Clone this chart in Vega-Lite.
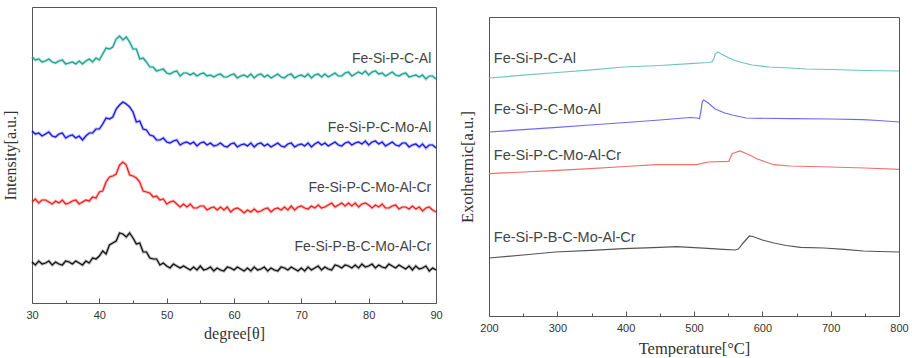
{
  "$schema": "https://vega.github.io/schema/vega-lite/v6.json",
  "background": "white",
  "padding": {"left": 1, "top": 6, "right": 0, "bottom": 0},
  "spacing": 15,
  "resolve": {"scale": {"color": "independent"}},
  "config": {
    "view": {"stroke": "#555555", "strokeWidth": 1},
    "axis": {
      "grid": false,
      "domain": false,
      "labelFont": "Liberation Sans",
      "labelFontSize": 11,
      "labelColor": "#333333",
      "titleFont": "Liberation Serif",
      "titleFontSize": 16,
      "titleFontWeight": "normal",
      "titleColor": "#333333",
      "tickColor": "#555555"
    },
    "text": {"font": "Liberation Sans", "fontSize": 14, "fill": "#444444"}
  },
  "datasets": {
    "xrd": [
      {"x":30,"al":246,"mo":172,"cr":101,"b":41},
      {"x":30.5,"al":243,"mo":169,"cr":104,"b":38},
      {"x":31,"al":244,"mo":170,"cr":100,"b":42},
      {"x":31.5,"al":241,"mo":167,"cr":103,"b":39},
      {"x":32,"al":242,"mo":169,"cr":103,"b":40},
      {"x":32.5,"al":244,"mo":171,"cr":101,"b":42},
      {"x":33,"al":241,"mo":167,"cr":99,"b":38},
      {"x":33.5,"al":240,"mo":166,"cr":102,"b":41},
      {"x":34,"al":242,"mo":169,"cr":100,"b":39},
      {"x":34.5,"al":243,"mo":170,"cr":103,"b":38},
      {"x":35,"al":239,"mo":165,"cr":99,"b":42},
      {"x":35.5,"al":240,"mo":167,"cr":100,"b":41},
      {"x":36,"al":241,"mo":168,"cr":102,"b":39},
      {"x":36.5,"al":239,"mo":165,"cr":103,"b":42},
      {"x":37,"al":242,"mo":167,"cr":99,"b":40},
      {"x":37.5,"al":239,"mo":163,"cr":101,"b":38},
      {"x":38,"al":242,"mo":167,"cr":103,"b":42},
      {"x":38.5,"al":244,"mo":170,"cr":102,"b":40},
      {"x":39,"al":241,"mo":170,"cr":106,"b":45},
      {"x":39.5,"al":245,"mo":174,"cr":105,"b":44},
      {"x":40,"al":243,"mo":174,"cr":111,"b":47},
      {"x":40.5,"al":249,"mo":179,"cr":112,"b":52},
      {"x":41,"al":255,"mo":185,"cr":121,"b":49},
      {"x":41.5,"al":254,"mo":184,"cr":126,"b":58},
      {"x":42,"al":256,"mo":186,"cr":127,"b":60},
      {"x":42.5,"al":264,"mo":194,"cr":129,"b":62},
      {"x":43,"al":267,"mo":198,"cr":138,"b":70},
      {"x":43.5,"al":263,"mo":201,"cr":141,"b":69},
      {"x":44,"al":266,"mo":199,"cr":138,"b":66},
      {"x":44.5,"al":261,"mo":196,"cr":128,"b":70},
      {"x":45,"al":254,"mo":191,"cr":127,"b":65},
      {"x":45.5,"al":254,"mo":181,"cr":125,"b":59},
      {"x":46,"al":244,"mo":182,"cr":121,"b":60},
      {"x":46.5,"al":245,"mo":174,"cr":112,"b":51},
      {"x":47,"al":241,"mo":173,"cr":111,"b":51},
      {"x":47.5,"al":236,"mo":168,"cr":110,"b":45},
      {"x":48,"al":236,"mo":167,"cr":106,"b":44},
      {"x":48.5,"al":232,"mo":163,"cr":107,"b":44},
      {"x":49,"al":233,"mo":163,"cr":103,"b":38},
      {"x":49.5,"al":234,"mo":165,"cr":104,"b":40},
      {"x":50,"al":230,"mo":161,"cr":99,"b":37},
      {"x":50.5,"al":229,"mo":160,"cr":101,"b":35},
      {"x":51,"al":231,"mo":162,"cr":102,"b":39},
      {"x":51.5,"al":232,"mo":163,"cr":99,"b":37},
      {"x":52,"al":227,"mo":158,"cr":96,"b":35},
      {"x":52.5,"al":230,"mo":160,"cr":99,"b":37},
      {"x":53,"al":230,"mo":161,"cr":96,"b":35},
      {"x":53.5,"al":228,"mo":159,"cr":99,"b":33},
      {"x":54,"al":230,"mo":161,"cr":95,"b":36},
      {"x":54.5,"al":227,"mo":157,"cr":95,"b":33},
      {"x":55,"al":229,"mo":160,"cr":97,"b":37},
      {"x":55.5,"al":230,"mo":161,"cr":97,"b":33},
      {"x":56,"al":227,"mo":158,"cr":93,"b":34},
      {"x":56.5,"al":228,"mo":160,"cr":95,"b":36},
      {"x":57,"al":226,"mo":157,"cr":96,"b":32},
      {"x":57.5,"al":228,"mo":158,"cr":93,"b":35},
      {"x":58,"al":229,"mo":160,"cr":96,"b":33},
      {"x":58.5,"al":226,"mo":157,"cr":93,"b":32},
      {"x":59,"al":226,"mo":156,"cr":96,"b":36},
      {"x":59.5,"al":228,"mo":159,"cr":91,"b":35},
      {"x":60,"al":229,"mo":160,"cr":94,"b":33},
      {"x":60.5,"al":225,"mo":156,"cr":95,"b":36},
      {"x":61,"al":227,"mo":158,"cr":93,"b":34},
      {"x":61.5,"al":228,"mo":159,"cr":90,"b":32},
      {"x":62,"al":226,"mo":157,"cr":93,"b":35},
      {"x":62.5,"al":229,"mo":160,"cr":91,"b":32},
      {"x":63,"al":225,"mo":156,"cr":94,"b":36},
      {"x":63.5,"al":228,"mo":159,"cr":91,"b":33},
      {"x":64,"al":229,"mo":160,"cr":92,"b":34},
      {"x":64.5,"al":226,"mo":157,"cr":94,"b":36},
      {"x":65,"al":228,"mo":159,"cr":95,"b":32},
      {"x":65.5,"al":225,"mo":156,"cr":91,"b":35},
      {"x":66,"al":227,"mo":158,"cr":94,"b":33},
      {"x":66.5,"al":229,"mo":160,"cr":95,"b":32},
      {"x":67,"al":226,"mo":157,"cr":93,"b":36},
      {"x":67.5,"al":225,"mo":156,"cr":96,"b":35},
      {"x":68,"al":228,"mo":159,"cr":93,"b":33},
      {"x":68.5,"al":229,"mo":160,"cr":97,"b":36},
      {"x":69,"al":225,"mo":156,"cr":93,"b":34},
      {"x":69.5,"al":227,"mo":158,"cr":96,"b":32},
      {"x":70,"al":228,"mo":159,"cr":97,"b":35},
      {"x":70.5,"al":226,"mo":157,"cr":95,"b":32},
      {"x":71,"al":229,"mo":160,"cr":94,"b":36},
      {"x":71.5,"al":225,"mo":156,"cr":97,"b":33},
      {"x":72,"al":228,"mo":159,"cr":95,"b":35},
      {"x":72.5,"al":229,"mo":161,"cr":98,"b":37},
      {"x":73,"al":226,"mo":158,"cr":95,"b":33},
      {"x":73.5,"al":229,"mo":160,"cr":96,"b":36},
      {"x":74,"al":226,"mo":157,"cr":98,"b":34},
      {"x":74.5,"al":228,"mo":159,"cr":100,"b":33},
      {"x":75,"al":230,"mo":161,"cr":96,"b":38},
      {"x":75.5,"al":227,"mo":158,"cr":98,"b":37},
      {"x":76,"al":227,"mo":157,"cr":100,"b":35},
      {"x":76.5,"al":230,"mo":160,"cr":97,"b":38},
      {"x":77,"al":231,"mo":161,"cr":100,"b":37},
      {"x":77.5,"al":227,"mo":158,"cr":97,"b":35},
      {"x":78,"al":229,"mo":160,"cr":100,"b":38},
      {"x":78.5,"al":231,"mo":161,"cr":96,"b":35},
      {"x":79,"al":229,"mo":159,"cr":99,"b":39},
      {"x":79.5,"al":232,"mo":162,"cr":100,"b":36},
      {"x":80,"al":228,"mo":158,"cr":98,"b":37},
      {"x":80.5,"al":231,"mo":161,"cr":95,"b":39},
      {"x":81,"al":232,"mo":162,"cr":98,"b":35},
      {"x":81.5,"al":229,"mo":159,"cr":96,"b":38},
      {"x":82,"al":230,"mo":161,"cr":99,"b":36},
      {"x":82.5,"al":227,"mo":157,"cr":95,"b":35},
      {"x":83,"al":229,"mo":159,"cr":95,"b":39},
      {"x":83.5,"al":231,"mo":161,"cr":97,"b":37},
      {"x":84,"al":228,"mo":158,"cr":98,"b":35},
      {"x":84.5,"al":227,"mo":157,"cr":94,"b":38},
      {"x":85,"al":229,"mo":160,"cr":96,"b":36},
      {"x":85.5,"al":230,"mo":160,"cr":96,"b":34},
      {"x":86,"al":226,"mo":156,"cr":94,"b":37},
      {"x":86.5,"al":227,"mo":158,"cr":97,"b":33},
      {"x":87,"al":228,"mo":159,"cr":94,"b":37},
      {"x":87.5,"al":226,"mo":156,"cr":96,"b":34},
      {"x":88,"al":228,"mo":159,"cr":92,"b":35},
      {"x":88.5,"al":224,"mo":155,"cr":95,"b":37},
      {"x":89,"al":227,"mo":158,"cr":96,"b":32},
      {"x":89.5,"al":227,"mo":158,"cr":93,"b":35},
      {"x":90,"al":224,"mo":155,"cr":91,"b":33}
    ],
    "dsc": [
      {"s":"al","T":200,"v":238},
      {"s":"al","T":250,"v":240.8},
      {"s":"al","T":300,"v":243.5},
      {"s":"al","T":350,"v":246.2},
      {"s":"al","T":397,"v":249},
      {"s":"al","T":450,"v":250.5},
      {"s":"al","T":494,"v":252.3},
      {"s":"al","T":520,"v":253.5},
      {"s":"al","T":526,"v":254},
      {"s":"al","T":529,"v":257},
      {"s":"al","T":531,"v":262},
      {"s":"al","T":535,"v":264},
      {"s":"al","T":540,"v":262},
      {"s":"al","T":550,"v":258.5},
      {"s":"al","T":558,"v":256},
      {"s":"al","T":570,"v":253.5},
      {"s":"al","T":585,"v":251},
      {"s":"al","T":610,"v":249},
      {"s":"al","T":640,"v":248},
      {"s":"al","T":665,"v":247},
      {"s":"al","T":700,"v":246.5},
      {"s":"al","T":750,"v":245.5},
      {"s":"al","T":800,"v":245},
      {"s":"mo","T":200,"v":184},
      {"s":"mo","T":250,"v":186.4},
      {"s":"mo","T":300,"v":188.7},
      {"s":"mo","T":348,"v":191},
      {"s":"mo","T":400,"v":193.5},
      {"s":"mo","T":450,"v":196},
      {"s":"mo","T":494,"v":198.5},
      {"s":"mo","T":505,"v":198},
      {"s":"mo","T":508,"v":197.3},
      {"s":"mo","T":510,"v":204},
      {"s":"mo","T":512,"v":214},
      {"s":"mo","T":514,"v":216},
      {"s":"mo","T":520,"v":213.5},
      {"s":"mo","T":531,"v":207},
      {"s":"mo","T":545,"v":203},
      {"s":"mo","T":556,"v":201},
      {"s":"mo","T":576,"v":198},
      {"s":"mo","T":640,"v":197.3},
      {"s":"mo","T":700,"v":197},
      {"s":"mo","T":747,"v":196.3},
      {"s":"mo","T":770,"v":195.5},
      {"s":"mo","T":800,"v":194},
      {"s":"cr","T":200,"v":142.3},
      {"s":"cr","T":250,"v":144},
      {"s":"cr","T":300,"v":145.7},
      {"s":"cr","T":348,"v":147.3},
      {"s":"cr","T":400,"v":149.5},
      {"s":"cr","T":445,"v":151.3},
      {"s":"cr","T":504,"v":151.3},
      {"s":"cr","T":521,"v":154},
      {"s":"cr","T":551,"v":154.7},
      {"s":"cr","T":553,"v":158},
      {"s":"cr","T":556,"v":162.3},
      {"s":"cr","T":567,"v":165},
      {"s":"cr","T":580,"v":161.5},
      {"s":"cr","T":592,"v":157.3},
      {"s":"cr","T":605,"v":154},
      {"s":"cr","T":617,"v":151.3},
      {"s":"cr","T":640,"v":150},
      {"s":"cr","T":700,"v":149},
      {"s":"cr","T":750,"v":148},
      {"s":"cr","T":800,"v":146.7},
      {"s":"b","T":200,"v":58},
      {"s":"b","T":250,"v":61},
      {"s":"b","T":297,"v":64},
      {"s":"b","T":350,"v":65.7},
      {"s":"b","T":397,"v":67.3},
      {"s":"b","T":440,"v":68.3},
      {"s":"b","T":475,"v":69.3},
      {"s":"b","T":494,"v":68.7},
      {"s":"b","T":520,"v":67.7},
      {"s":"b","T":543,"v":66.7},
      {"s":"b","T":560,"v":66},
      {"s":"b","T":565,"v":67},
      {"s":"b","T":572,"v":73},
      {"s":"b","T":581,"v":80},
      {"s":"b","T":586,"v":79.5},
      {"s":"b","T":600,"v":76},
      {"s":"b","T":617,"v":73},
      {"s":"b","T":635,"v":70.5},
      {"s":"b","T":656,"v":68.7},
      {"s":"b","T":690,"v":68},
      {"s":"b","T":720,"v":66.7},
      {"s":"b","T":748,"v":65},
      {"s":"b","T":770,"v":64.5},
      {"s":"b","T":800,"v":64}
    ]
  },
  "hconcat": [
    {
      "width": 404,
      "height": 296,
      "resolve": {"axis": {"x": "independent"}},
      "layer": [
        {
          "data": {"name": "xrd"},
          "transform": [{"fold": ["al", "mo", "cr", "b"], "as": ["s", "v"]}],
          "mark": {"type": "line", "strokeWidth": 3, "opacity": 0.3},
          "encoding": {
            "x": {
              "field": "x",
              "type": "quantitative",
              "scale": {"domain": [30, 90], "nice": false, "zero": false},
              "axis": {"orient": "bottom", "title": null, "labels": false, "values": [35, 45, 55, 65, 75, 85], "tickSize": -3}
            },
            "y": {
              "field": "v",
              "type": "quantitative",
              "scale": {"domain": [0, 296], "nice": false},
              "axis": {"title": "Intensity[a.u.]", "labels": false, "ticks": false, "titlePadding": 14}
            },
            "color": {
              "field": "s",
              "type": "nominal",
              "scale": {"domain": ["al", "mo", "cr", "b"], "range": ["#16a090", "#1515e8", "#f51a1a", "#101010"]},
              "legend": null
            }
          }
        },
        {
          "data": {"name": "xrd"},
          "transform": [{"fold": ["al", "mo", "cr", "b"], "as": ["s", "v"]}],
          "mark": {"type": "line", "strokeWidth": 1.2},
          "encoding": {
            "x": {"field": "x", "type": "quantitative", "axis": null},
            "y": {"field": "v", "type": "quantitative"},
            "color": {"field": "s", "type": "nominal", "legend": null}
          }
        },
        {
          "data": {
            "values": [
              {"x": 89.3, "y": 244, "t": "Fe-Si-P-C-Al"},
              {"x": 89.3, "y": 175, "t": "Fe-Si-P-C-Mo-Al"},
              {"x": 89.3, "y": 115, "t": "Fe-Si-P-C-Mo-Al-Cr"},
              {"x": 89.3, "y": 56, "t": "Fe-Si-P-B-C-Mo-Al-Cr"}
            ]
          },
          "mark": {"type": "text", "align": "right", "baseline": "middle"},
          "encoding": {
            "x": {
              "field": "x",
              "type": "quantitative",
              "axis": {
                "orient": "bottom",
                "title": "degree[θ]",
                "values": [30, 40, 50, 60, 70, 80, 90],
                "tickSize": -5,
                "labelPadding": 11,
                "titlePadding": 5,
                "labelFlush": false
              }
            },
            "y": {"field": "y", "type": "quantitative"},
            "text": {"field": "t", "type": "nominal"}
          }
        }
      ]
    },
    {
      "spacing": 8,
      "vconcat": [
        {
          "width": 410,
          "height": 1,
          "view": {"stroke": null},
          "data": {"values": []},
          "mark": "point"
        },
        {
          "width": 410,
          "height": 299,
          "resolve": {"axis": {"x": "independent"}},
          "layer": [
            {
              "data": {"name": "dsc"},
              "mark": {"type": "line", "strokeWidth": 1.2},
              "encoding": {
                "x": {
                  "field": "T",
                  "type": "quantitative",
                  "scale": {"domain": [200, 800], "nice": false, "zero": false},
                  "axis": {"orient": "bottom", "title": null, "labels": false, "values": [250, 350, 450, 550, 650, 750], "tickSize": -3}
                },
                "y": {
                  "field": "v",
                  "type": "quantitative",
                  "scale": {"domain": [0, 299], "nice": false},
                  "axis": {"title": "Exothermic[a.u.]", "labels": false, "ticks": false, "titlePadding": 14, "titleFontSize": 16.5}
                },
                "color": {
                  "field": "s",
                  "type": "nominal",
                  "scale": {"domain": ["al", "mo", "cr", "b"], "range": ["#6ec4c0", "#6b6bf0", "#f07070", "#555555"]},
                  "legend": null
                }
              }
            },
            {
              "data": {
                "values": [
                  {"x": 207, "y": 257, "t": "Fe-Si-P-C-Al"},
                  {"x": 207, "y": 206, "t": "Fe-Si-P-C-Mo-Al"},
                  {"x": 207, "y": 160, "t": "Fe-Si-P-C-Mo-Al-Cr"},
                  {"x": 207, "y": 78, "t": "Fe-Si-P-B-C-Mo-Al-Cr"}
                ]
              },
              "mark": {"type": "text", "align": "left", "baseline": "middle", "fontSize": 14.5},
              "encoding": {
                "x": {
                  "field": "x",
                  "type": "quantitative",
                  "axis": {
                    "orient": "bottom",
                    "title": "Temperature[°C]",
                    "titleFontSize": 16.5,
                    "values": [200, 300, 400, 500, 600, 700, 800],
                    "tickSize": -5,
                    "labelPadding": 11,
                    "titlePadding": 7,
                    "labelFlush": false
                  }
                },
                "y": {"field": "y", "type": "quantitative"},
                "text": {"field": "t", "type": "nominal"}
              }
            }
          ]
        }
      ]
    }
  ]
}
